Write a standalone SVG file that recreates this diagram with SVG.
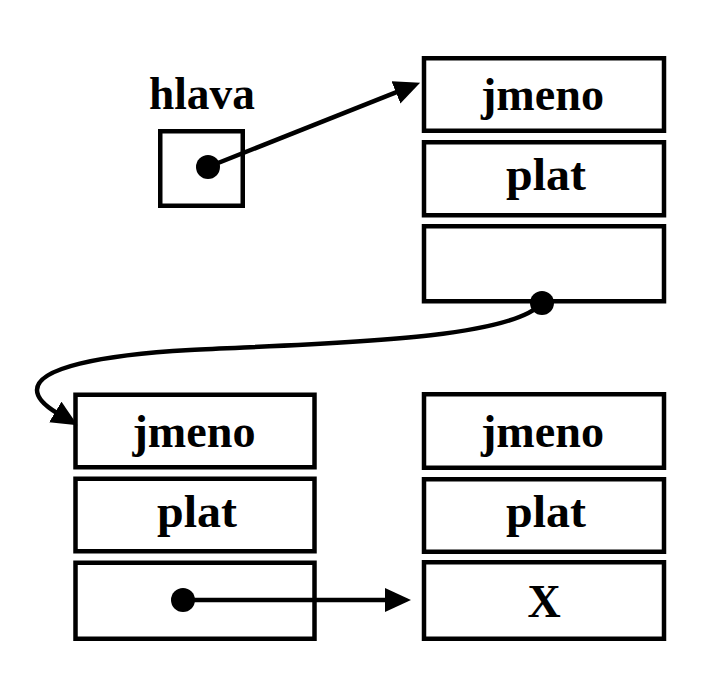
<svg xmlns="http://www.w3.org/2000/svg" width="723" height="683" viewBox="0 0 723 683">
  <style>
    .cell { fill: #ffffff; stroke: #000000; stroke-width: 4.5; }
    .lbl { font-family: "Liberation Serif", "Times New Roman", serif; font-weight: bold; font-size: 46px; fill: #000000; text-anchor: middle; }
    .wire { fill: none; stroke: #000000; stroke-width: 4.5; }
    .dot { fill: #000000; }
  </style>
  <defs>
    <marker id="arrow" markerUnits="userSpaceOnUse" markerWidth="28" markerHeight="26" refX="2" refY="12" orient="auto">
      <path d="M0,0 L26,12 L0,24 Z" fill="#000000"/>
    </marker>
  </defs>
  <rect width="723" height="683" fill="#ffffff"/>

  <!-- head pointer -->
  <g id="hlava">
    <text class="lbl" x="202" y="109" textLength="106" lengthAdjust="spacingAndGlyphs">hlava</text>
    <rect class="cell" x="160.25" y="131.25" width="82.5" height="74.5"/>
  </g>

  <!-- first record -->
  <g id="record1">
    <rect class="cell" x="424" y="58.25" width="240" height="72.5"/>
    <text class="lbl" x="542.5" y="110" textLength="123" lengthAdjust="spacingAndGlyphs">jmeno</text>
    <rect class="cell" x="424" y="142.25" width="240" height="73"/>
    <text class="lbl" x="546" y="190" textLength="80" lengthAdjust="spacingAndGlyphs">plat</text>
    <rect class="cell" x="424" y="226.25" width="240" height="75"/>
  </g>

  <!-- second record -->
  <g id="record2">
    <rect class="cell" x="75.5" y="394.75" width="239" height="72.5"/>
    <text class="lbl" x="194" y="446.5" textLength="123" lengthAdjust="spacingAndGlyphs">jmeno</text>
    <rect class="cell" x="75.5" y="478.75" width="239" height="72.5"/>
    <text class="lbl" x="197" y="526.5" textLength="80" lengthAdjust="spacingAndGlyphs">plat</text>
    <rect class="cell" x="75.5" y="562.75" width="239" height="76"/>
  </g>

  <!-- third record -->
  <g id="record3">
    <rect class="cell" x="424" y="394.25" width="240" height="73.5"/>
    <text class="lbl" x="542.5" y="446.5" textLength="123" lengthAdjust="spacingAndGlyphs">jmeno</text>
    <rect class="cell" x="424" y="479.25" width="240" height="72.5"/>
    <text class="lbl" x="546" y="526.5" textLength="80" lengthAdjust="spacingAndGlyphs">plat</text>
    <rect class="cell" x="424" y="562.25" width="240" height="76.5"/>
    <text class="lbl" x="544" y="617">X</text>
  </g>

  <!-- pointer connectors -->
  <g id="connectors">
    <line class="wire" x1="208" y1="167" x2="397.8" y2="91.6" marker-end="url(#arrow)"/>
    <circle class="dot" cx="208" cy="167" r="12"/>
    <path class="wire" d="M542,303 C510,340 330,343 190,350 C100,355 37,368 37,390 C37,396 42,404 57,413" marker-end="url(#arrow)"/>
    <circle class="dot" cx="542" cy="303" r="12"/>
    <line class="wire" x1="183" y1="600" x2="387" y2="600" marker-end="url(#arrow)"/>
    <circle class="dot" cx="183" cy="600" r="12"/>
  </g>
</svg>
